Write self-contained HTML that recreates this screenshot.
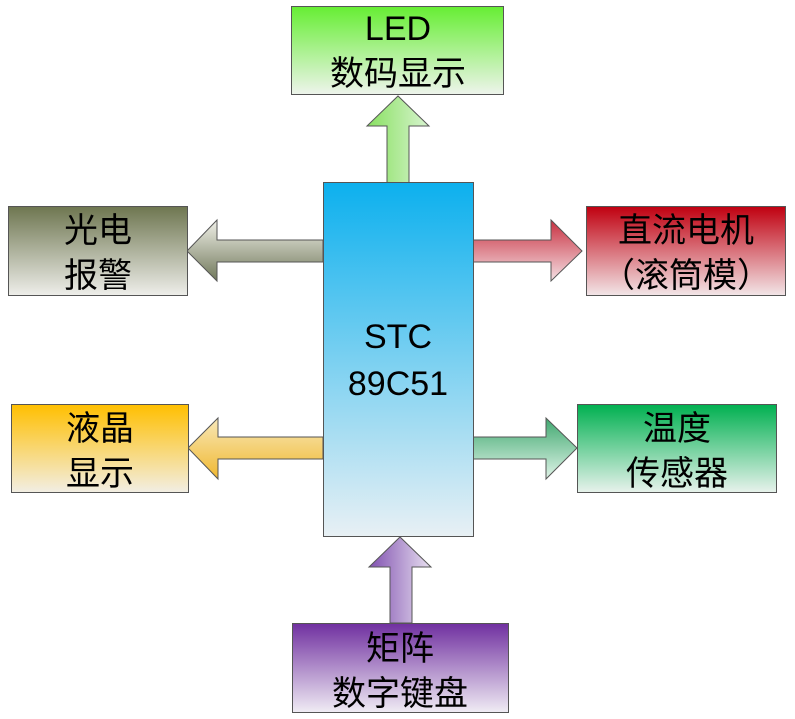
<!DOCTYPE html>
<html><head><meta charset="utf-8"><style>body{margin:0;background:#fff}svg{display:block}text{font-family:"Liberation Sans","Noto Sans CJK SC",sans-serif;font-size:34px;fill:#000;text-anchor:middle}</style></head><body>
<svg width="795" height="719" viewBox="0 0 795 719" xmlns="http://www.w3.org/2000/svg">
<defs>
<linearGradient id="g1" x1="0" y1="0" x2="0" y2="1"><stop offset="0" stop-color="#66ee33"/><stop offset="1" stop-color="#eef4ec"/></linearGradient>
<linearGradient id="g2" x1="0" y1="0" x2="0" y2="1"><stop offset="0" stop-color="#6e7650"/><stop offset="1" stop-color="#eeeeea"/></linearGradient>
<linearGradient id="g3" x1="0" y1="0" x2="0" y2="1"><stop offset="0" stop-color="#c00010"/><stop offset="1" stop-color="#f2e6e8"/></linearGradient>
<linearGradient id="g4" x1="0" y1="0" x2="0" y2="1"><stop offset="0" stop-color="#ffbf00"/><stop offset="1" stop-color="#f2eee4"/></linearGradient>
<linearGradient id="g5" x1="0" y1="0" x2="0" y2="1"><stop offset="0" stop-color="#00b050"/><stop offset="1" stop-color="#e8f2ec"/></linearGradient>
<linearGradient id="g6" x1="0" y1="0" x2="0" y2="1"><stop offset="0" stop-color="#7030a0"/><stop offset="1" stop-color="#f0ecf4"/></linearGradient>
<linearGradient id="g7" x1="0" y1="0" x2="0" y2="1"><stop offset="0" stop-color="#0cb0ee"/><stop offset="1" stop-color="#e8f0f4"/></linearGradient>
<linearGradient id="h2" x1="0" y1="0" x2="0" y2="1"><stop offset="0" stop-color="#f0f0e8"/><stop offset="1" stop-color="#70785a"/></linearGradient>
<linearGradient id="h3" x1="0" y1="0" x2="0" y2="1"><stop offset="0" stop-color="#c83040"/><stop offset="1" stop-color="#f4e0e4"/></linearGradient>
<linearGradient id="h4" x1="0" y1="0" x2="0" y2="1"><stop offset="0" stop-color="#f8e8b8"/><stop offset="1" stop-color="#f0b830"/></linearGradient>
<linearGradient id="h5" x1="0" y1="0" x2="0" y2="1"><stop offset="0" stop-color="#40a870"/><stop offset="1" stop-color="#e0f4e8"/></linearGradient>
<linearGradient id="v1" x1="0" y1="0" x2="1" y2="0"><stop offset="0" stop-color="#88e060"/><stop offset="1" stop-color="#d8f4d0"/></linearGradient>
<linearGradient id="v6" x1="0" y1="0" x2="1" y2="0"><stop offset="0" stop-color="#8050b0"/><stop offset="1" stop-color="#e8e0f0"/></linearGradient>
</defs>
<g stroke="#555" stroke-width="1">
<path d="M387,183 V126 H367 L398,96 L429,126 H409 V183 Z" fill="url(#v1)"/>
<path d="M323,240 H217 V220 L187,251 L217,281 V262 H323 Z" fill="url(#h2)"/>
<path d="M473,240 H551 V220 L582,251 L551,281 V262 H473 Z" fill="url(#h3)"/>
<path d="M323,437 H218 V418 L188,448 L218,479 V459 H323 Z" fill="url(#h4)"/>
<path d="M473,437 H546 V418 L577,448 L546,479 V459 H473 Z" fill="url(#h5)"/>
<path d="M390,623 V567 H369 L400,537 L431,567 H412 V623 Z" fill="url(#v6)"/>
<rect x="291.5" y="6.5" width="212" height="88" fill="url(#g1)"/>
<rect x="8.5" y="206.5" width="179" height="89" fill="url(#g2)"/>
<rect x="586.5" y="206.5" width="199" height="89" fill="url(#g3)"/>
<rect x="11.5" y="404.5" width="177" height="88" fill="url(#g4)"/>
<rect x="577.5" y="404.5" width="199" height="88" fill="url(#g5)"/>
<rect x="292.5" y="623.5" width="216" height="89" fill="url(#g6)"/>
<rect x="323.5" y="182.5" width="150" height="354" fill="url(#g7)"/>
</g>
<text x="398" y="40" font-size="30">LED</text>
<text x="398" y="85">数码显示</text>
<text x="98" y="242">光电</text>
<text x="98" y="287">报警</text>
<text x="686" y="242">直流电机</text>
<text x="686" y="287">（滚筒模）</text>
<text x="100" y="440">液晶</text>
<text x="100" y="485">显示</text>
<text x="677" y="440">温度</text>
<text x="677" y="485">传感器</text>
<text x="400" y="660">矩阵</text>
<text x="400" y="705">数字键盘</text>
<text x="398" y="348" font-size="36">STC</text>
<text x="398" y="395" font-size="36">89C51</text>
</svg>
</body></html>
